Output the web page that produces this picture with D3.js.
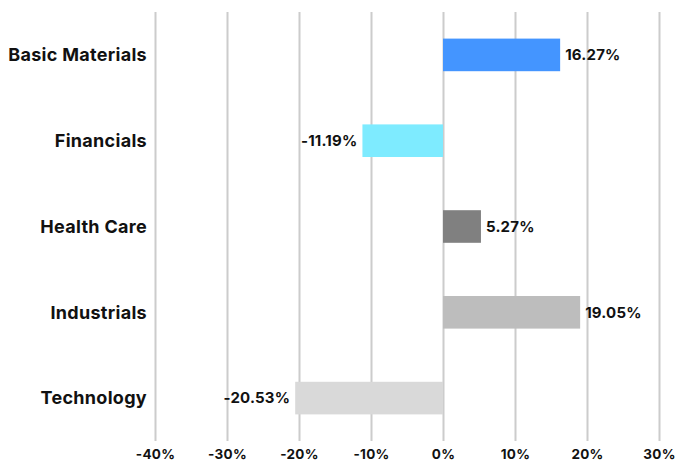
<!DOCTYPE html>
<html>
<head>
<meta charset="utf-8">
<script src="https://cdn.jsdelivr.net/npm/d3@7"></script>
<style>
  body { margin: 0; background: #fff; }
  text { font-family: "Inter", "Open Sans", sans-serif; font-weight: 700; fill: #111; }
</style>
</head>
<body>
<div id="chart"></div>
<script>
(function () {

  const sectors = ["Basic Materials", "Financials", "Health Care", "Industrials", "Technology"];
  const changes = [16.27, -11.19, 5.27, 19.05, -20.53];
  const colors = ["#4495ff", "#7eebff", "#808080", "#bdbdbd", "#d9d9d9"];
  const ticks = [-40, -30, -20, -10, 0, 10, 20, 30];

  const data = sectors.map((s, i) => ({ sector: s, value: changes[i], color: colors[i] }));

  const W = 677, H = 462;
  const margin = { top: 12, right: 18, bottom: 21, left: 155 };
  const width = W - margin.left - margin.right;
  const height = H - margin.top - margin.bottom;

  const svg = d3.select("#chart")
    .append("svg")
    .attr("width", W)
    .attr("height", H)
    .append("g")
    .attr("transform", `translate(${margin.left}, ${margin.top})`);

  const x = d3.scaleLinear()
    .domain([-40, 30])
    .range([0, 504]);

  const y = d3.scaleBand()
    .domain(sectors)
    .range([0, height])
    .paddingInner(0.62)
    .paddingOuter(0.31);

  // gridlines + tick labels
  const xAxis = svg.append("g")
    .attr("transform", `translate(0,${height})`)
    .call(d3.axisBottom(x).tickValues(ticks).tickSize(height).tickFormat(d => d + "%"));

  xAxis.select(".domain").remove();
  xAxis.selectAll(".tick line")
    .attr("y1", 0)
    .attr("y2", -height)
    .attr("stroke", "#cccccc")
    .attr("stroke-width", 2);
  xAxis.selectAll(".tick text")
    .attr("y", 18)
    .attr("dy", "0")
    .style("font-size", "13.5px")
    .style("letter-spacing", "0.3px")
    .style("fill", "#111");

  // category labels
  svg.append("g")
    .selectAll("text")
    .data(data)
    .join("text")
    .attr("x", -8)
    .attr("y", d => y(d.sector) + y.bandwidth() / 2)
    .attr("dy", "0.35em")
    .attr("text-anchor", "end")
    .style("font-size", "18px")
    .style("letter-spacing", "0.3px")
    .text(d => d.sector);

  // bars
  svg.append("g")
    .selectAll("rect")
    .data(data)
    .join("rect")
    .attr("x", d => x(Math.min(0, d.value)))
    .attr("width", d => Math.abs(x(d.value) - x(0)))
    .attr("y", d => y(d.sector))
    .attr("height", y.bandwidth())
    .attr("fill", d => d.color);

  // value labels
  svg.append("g")
    .selectAll("text")
    .data(data)
    .join("text")
    .attr("x", d => d.value >= 0 ? x(d.value) + 5 : x(d.value) - 5)
    .attr("y", d => y(d.sector) + y.bandwidth() / 2)
    .attr("dy", "0.35em")
    .attr("text-anchor", d => d.value >= 0 ? "start" : "end")
    .style("font-size", "15px")
    .style("letter-spacing", "0.2px")
    .text(d => d.value.toFixed(2) + "%");

})();
</script>
</body>
</html>
